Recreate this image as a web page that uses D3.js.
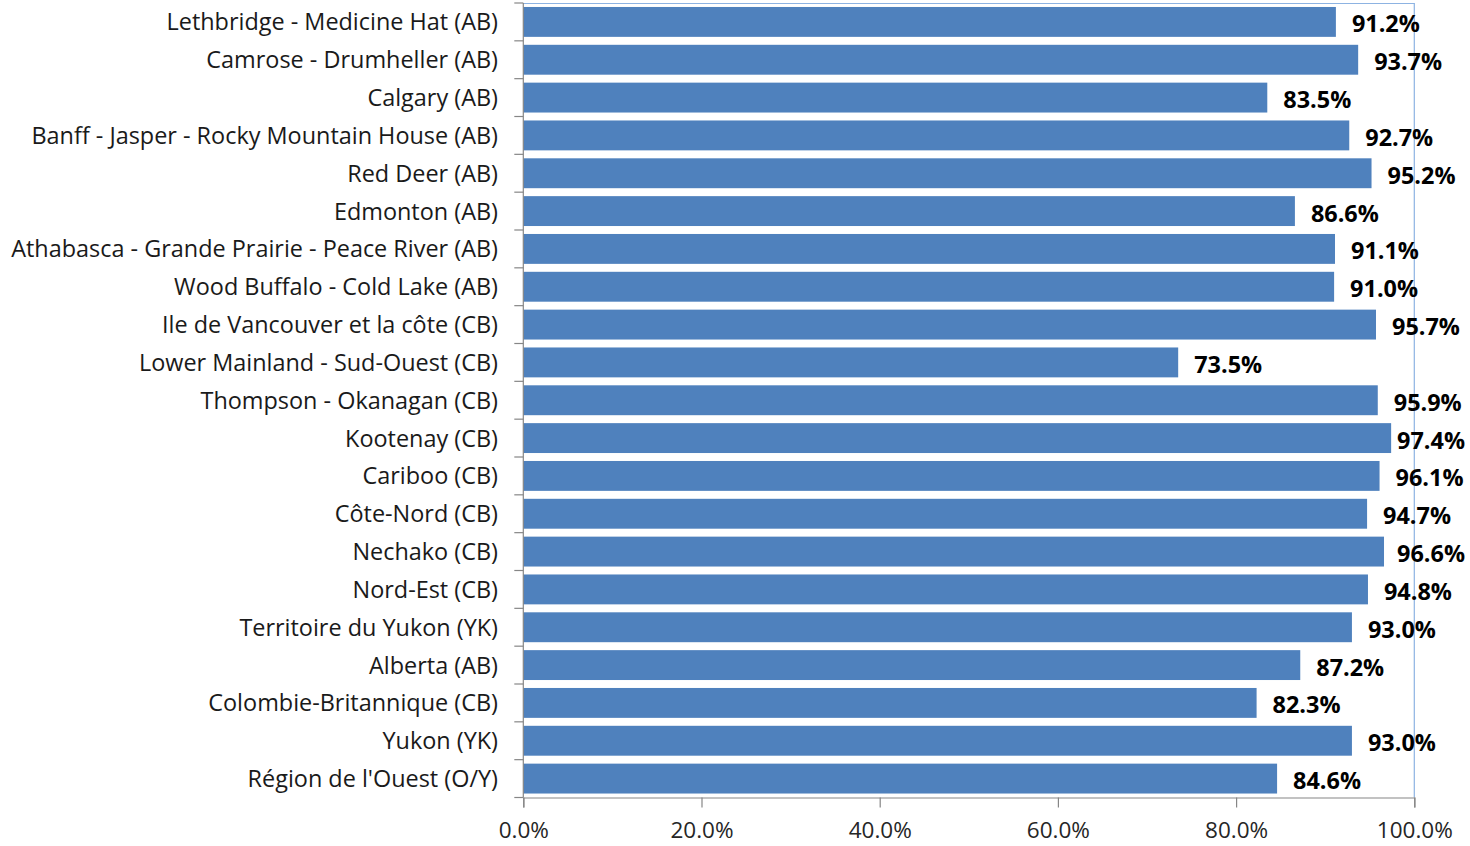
<!DOCTYPE html>
<html><head><meta charset="utf-8">
<script src="https://cdn.jsdelivr.net/npm/d3@7"></script>
<style>body{margin:0;background:#fff;} svg{display:block;}</style>
</head><body>
<svg id="chart" width="1470" height="846"></svg>
<script>
const categories = [
  "Lethbridge - Medicine Hat (AB)",
  "Camrose - Drumheller (AB)",
  "Calgary (AB)",
  "Banff - Jasper - Rocky Mountain House (AB)",
  "Red Deer (AB)",
  "Edmonton (AB)",
  "Athabasca - Grande Prairie - Peace River (AB)",
  "Wood Buffalo - Cold Lake (AB)",
  "Ile de Vancouver et la côte (CB)",
  "Lower Mainland - Sud-Ouest (CB)",
  "Thompson - Okanagan (CB)",
  "Kootenay (CB)",
  "Cariboo (CB)",
  "Côte-Nord (CB)",
  "Nechako (CB)",
  "Nord-Est (CB)",
  "Territoire du Yukon (YK)",
  "Alberta (AB)",
  "Colombie-Britannique (CB)",
  "Yukon (YK)",
  "Région de l'Ouest (O/Y)"
];
const values = [91.2, 93.7, 83.5, 92.7, 95.2, 86.6, 91.1, 91.0, 95.7, 73.5, 95.9, 97.4, 96.1, 94.7, 96.6, 94.8, 93.0, 87.2, 82.3, 93.0, 84.6];
const tickValues = [0, 20, 40, 60, 80, 100];

(function () {
const svg = d3.select("#chart");
const pLeft = 523.3, pRight = 1414.3, pTop = 3, pBottom = 797.5;
const font = "'Open Sans', Lato, sans-serif";

function fitSize(text, weight, target) {
  const t = svg.append("text").attr("font-family", font).attr("font-weight", weight).attr("font-size", 20).text(text);
  const w = t.node().getComputedTextLength();
  t.remove();
  return 20 * target / w;
}
const catSize = fitSize("Athabasca - Grande Prairie - Peace River (AB)", "normal", 487);
const valSize = fitSize("91.2%", "bold", 68);
const tickSize = fitSize("100.0%", "normal", 76);

const x = d3.scaleLinear().domain([0, 100]).range([pLeft, pRight]);
const y = d3.scaleBand().domain(categories).range([pTop, pBottom]).paddingInner(0.21).paddingOuter(0.105);

svg.append("line").attr("x1", pLeft).attr("x2", pRight).attr("y1", pTop + 0.5).attr("y2", pTop + 0.5)
  .attr("stroke", "#8db3e2").attr("stroke-width", 1);
svg.append("line").attr("x1", pRight).attr("x2", pRight).attr("y1", pTop).attr("y2", pBottom)
  .attr("stroke", "#8db3e2").attr("stroke-width", 1.2);

svg.append("g").selectAll("rect").data(values).join("rect")
  .attr("x", x(0))
  .attr("y", (d, i) => y(categories[i]))
  .attr("width", d => x(d) - x(0))
  .attr("height", y.bandwidth())
  .attr("fill", "#4f81bd");

const labelMaxRight = 1465;
svg.append("g").selectAll("text").data(values).join("text")
  .attr("y", (d, i) => y(categories[i]) + y.bandwidth() / 2 + 2)
  .attr("dy", "0.36em")
  .attr("font-family", font).attr("font-weight", "bold").attr("font-size", valSize)
  .attr("fill", "#000")
  .text(d => d.toFixed(1) + "%")
  .attr("x", function (d) {
    const w = this.getComputedTextLength();
    return Math.min(x(d) + 16, labelMaxRight - w);
  });

const step = (pBottom - pTop) / categories.length;
const gy = svg.append("g");
gy.append("line").attr("x1", pLeft).attr("x2", pLeft).attr("y1", pTop).attr("y2", pBottom).attr("stroke", "#868686").attr("stroke-width", 1.2);
gy.selectAll("line.t").data(d3.range(categories.length + 1)).join("line").attr("class", "t")
  .attr("x1", pLeft - 9).attr("x2", pLeft)
  .attr("y1", i => pTop + i * step).attr("y2", i => pTop + i * step)
  .attr("stroke", "#868686").attr("stroke-width", 1.2);
gy.selectAll("text").data(categories).join("text")
  .attr("x", 498)
  .attr("y", d => y(d) + y.bandwidth() / 2)
  .attr("dy", "0.36em")
  .attr("text-anchor", "end")
  .attr("font-family", font).attr("font-size", catSize)
  .attr("fill", "#1a1a1a")
  .text(d => d);

const xAxis = d3.axisBottom(x).tickValues(tickValues).tickSize(10).tickPadding(15)
  .tickFormat(d => d.toFixed(1) + "%");
const gx = svg.append("g").attr("transform", `translate(0,${pBottom})`).call(xAxis);
gx.select(".domain").attr("stroke", "#868686").attr("stroke-width", 1.2);
gx.selectAll(".tick line").attr("stroke", "#868686").attr("stroke-width", 1.2);
gx.selectAll(".tick text").attr("font-family", font).attr("font-size", tickSize).attr("fill", "#262626");
})();
</script>
</body></html>
